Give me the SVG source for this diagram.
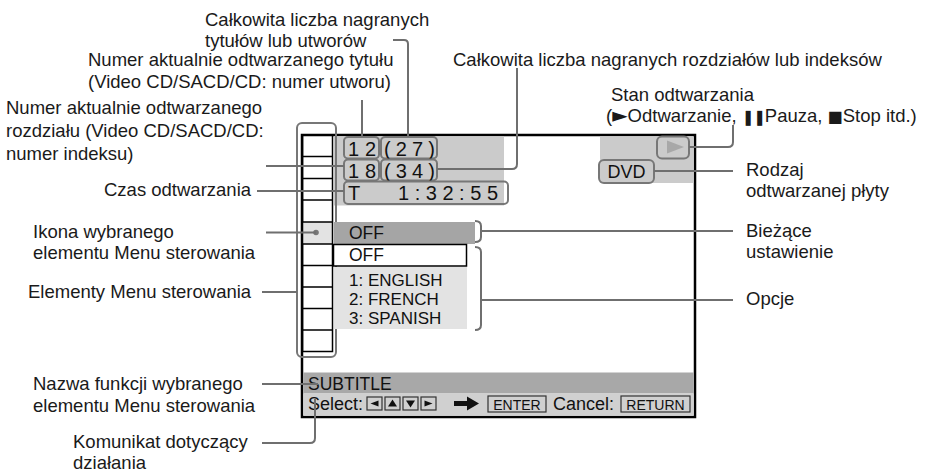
<svg xmlns="http://www.w3.org/2000/svg" width="928" height="475" viewBox="0 0 928 475">
<style>
.lbl{font-family:"Liberation Sans",Arial,sans-serif;font-size:18.5px;fill:#1a1a1a}
.scr{font-family:"Liberation Sans",Arial,sans-serif;font-size:17.5px;fill:#111}
.opt{font-family:"Liberation Sans",Arial,sans-serif;font-size:17px;fill:#111}
.dig{font-family:"Liberation Sans",Arial,sans-serif;font-size:20px;fill:#111}
.sym{font-family:"DejaVu Sans",sans-serif}
.gbox{fill:none;stroke:#777;stroke-width:2}
.con{fill:none;stroke:#6f6f6f;stroke-width:2}
.key{fill:none;stroke:#333;stroke-width:1.2}
.keyt{font-family:"Liberation Sans",Arial,sans-serif;font-size:14px;fill:#111}
</style>
<rect width="928" height="475" fill="#fff"/>

<g id="screen">
  <rect x="302" y="135" width="393" height="282" fill="#fff" stroke="#000" stroke-width="2.5"/>
  <rect x="334" y="136.5" width="170" height="69" fill="#cbcbcb"/>
  <rect x="600" y="136.5" width="93.5" height="46.5" fill="#cbcbcb"/>
</g>

<g id="menu-column">
  <rect x="302.5" y="222" width="30" height="22" fill="#e3e3e3"/>
  <rect x="302.5" y="135" width="30" height="216.5" fill="none" stroke="#000" stroke-width="1.5"/>
  <path d="M302.5 156.5H332.5M302.5 178.5H332.5M302.5 200H332.5M302.5 222H332.5M302.5 244H332.5M302.5 265.5H332.5M302.5 287H332.5M302.5 308.5H332.5M302.5 330H332.5" stroke="#000" stroke-width="1.5"/>
  <circle cx="316" cy="232.5" r="2.8" fill="#777"/>
  <rect x="297" y="123" width="39" height="234" rx="5" class="gbox"/>
</g>

<g id="title-number">
  <rect x="344" y="137" width="35" height="21.5" rx="4" class="gbox"/>
  <text x="348" y="156" class="dig" textLength="28" lengthAdjust="spacing">12</text>
</g>
<g id="title-total">
  <rect x="381" y="137" width="56" height="21.5" rx="4" class="gbox"/>
  <text x="384" y="156" class="dig" textLength="51" lengthAdjust="spacing">(27)</text>
</g>
<g id="chapter-number">
  <rect x="344" y="159.5" width="35" height="21" rx="4" class="gbox"/>
  <text x="348" y="178" class="dig" textLength="28" lengthAdjust="spacing">18</text>
</g>
<g id="chapter-total">
  <rect x="381" y="159.5" width="56" height="21" rx="4" class="gbox"/>
  <text x="384" y="178" class="dig" textLength="51" lengthAdjust="spacing">(34)</text>
</g>
<g id="time">
  <rect x="344" y="181.5" width="164" height="22.5" rx="4" class="gbox"/>
  <text x="348" y="200" class="dig">T</text>
  <text x="398" y="200" class="dig" textLength="100" lengthAdjust="spacing">1:32:55</text>
</g>
<g id="play-state">
  <rect x="657" y="136.5" width="32" height="22" rx="5" class="gbox"/>
  <path d="M667 140.5L667 153.5L684 147Z" fill="#a8a8a8"/>
</g>
<g id="disc-type">
  <rect x="599" y="160" width="55" height="23" rx="5" class="gbox"/>
  <text x="626.5" y="178" class="scr" text-anchor="middle" style="font-size:18px">DVD</text>
</g>

<g id="current-setting">
  <rect x="334" y="222" width="141" height="22" fill="#a5a5a5"/>
  <text x="349" y="239" class="scr">OFF</text>
</g>
<g id="options">
  <rect x="333.5" y="244.5" width="133" height="21.5" fill="#fff" stroke="#000" stroke-width="1.5"/>
  <text x="349" y="261" class="scr">OFF</text>
  <rect x="334" y="267" width="133" height="62" fill="#e3e3e3"/>
  <text x="349" y="285.5" class="opt">1: ENGLISH</text>
  <text x="349" y="304.5" class="opt">2: FRENCH</text>
  <text x="349" y="323.5" class="opt">3: SPANISH</text>
</g>

<g id="status-bar">
  <rect x="303.3" y="372.5" width="390.4" height="21" fill="#a8a8a8"/>
  <rect x="303.3" y="393.5" width="390.4" height="22.2" fill="#d0d0d0"/>
  <text x="308" y="390" class="scr">SUBTITLE</text>
  <text x="308" y="410" class="scr" style="font-size:18px">Select:</text>
  <g class="key">
    <rect x="367" y="397" width="15" height="13"/>
    <rect x="385" y="397" width="15" height="13"/>
    <rect x="403" y="397" width="15" height="13"/>
    <rect x="421" y="397" width="15" height="13"/>
  </g>
  <path d="M378.5 400.5V406.5L370.5 403.5Z" fill="#111"/>
  <path d="M392.5 399.5L397 406.5H388Z" fill="#111"/>
  <path d="M410.5 407.5L415 400.5H406Z" fill="#111"/>
  <path d="M424.5 400.5V406.5L432.5 403.5Z" fill="#111"/>
  <path d="M454 401H467V396.5L479 403.5L467 410.5V406H454Z" fill="#111"/>
  <rect x="488" y="396" width="58" height="16" class="key"/>
  <text x="517" y="409.5" class="keyt" text-anchor="middle">ENTER</text>
  <text x="553" y="410" class="scr" style="font-size:18px">Cancel:</text>
  <rect x="621" y="396" width="69" height="16" class="key"/>
  <text x="655.5" y="409.5" class="keyt" text-anchor="middle">RETURN</text>
</g>

<g id="connectors">
  <path class="con" d="M393 40H404Q408 40 408 44V137"/>
  <path class="con" d="M362 100V137"/>
  <path class="con" d="M517 68V164Q517 169 512 169H437"/>
  <path class="con" d="M733 125V142Q733 147 728 147H689"/>
  <path class="con" d="M266 166H344"/>
  <path class="con" d="M257 191H344"/>
  <path class="con" d="M654 171H733"/>
  <path class="con" d="M266 232.5H316"/>
  <path class="con" d="M475 221Q481 221 481 226V237Q481 242 475 242M481 231H733"/>
  <path class="con" d="M262 292H297"/>
  <path class="con" d="M475 247Q481 247 481 252V325Q481 330 475 330M481 300H733"/>
  <path class="con" d="M262 384H318"/>
  <path class="con" d="M262 443H310Q315 443 315 438V399"/>
</g>

<g id="labels">
  <text class="lbl" x="205" y="26">Całkowita liczba nagranych</text>
  <text class="lbl" x="205" y="47">tytułów lub utworów</text>
  <text class="lbl" x="88" y="66">Numer aktualnie odtwarzanego tytułu</text>
  <text class="lbl" x="88" y="88">(Video CD/SACD/CD: numer utworu)</text>
  <text class="lbl" x="453" y="66">Całkowita liczba nagranych rozdziałów lub indeksów</text>
  <text class="lbl" x="611" y="101">Stan odtwarzania</text>
  <text class="lbl" x="606" y="122">(<tspan class="sym" style="font-size:20px">►</tspan>Odtwarzanie, <tspan class="sym" style="font-size:15px;letter-spacing:-1px">❚❚</tspan>Pauza, <tspan class="sym" style="font-size:16px">■</tspan>Stop itd.)</text>
  <text class="lbl" x="6" y="114">Numer aktualnie odtwarzanego</text>
  <text class="lbl" x="6" y="137">rozdziału (Video CD/SACD/CD:</text>
  <text class="lbl" x="6" y="160">numer indeksu)</text>
  <text class="lbl" x="104" y="196">Czas odtwarzania</text>
  <text class="lbl" x="746" y="176">Rodzaj</text>
  <text class="lbl" x="746" y="197">odtwarzanej płyty</text>
  <text class="lbl" x="33" y="238">Ikona wybranego</text>
  <text class="lbl" x="33" y="259">elementu Menu sterowania</text>
  <text class="lbl" x="746" y="237">Bieżące</text>
  <text class="lbl" x="746" y="258">ustawienie</text>
  <text class="lbl" x="28" y="298">Elementy Menu sterowania</text>
  <text class="lbl" x="746" y="305">Opcje</text>
  <text class="lbl" x="33" y="390">Nazwa funkcji wybranego</text>
  <text class="lbl" x="33" y="412">elementu Menu sterowania</text>
  <text class="lbl" x="73" y="448">Komunikat dotyczący</text>
  <text class="lbl" x="73" y="469">działania</text>
</g>
</svg>
